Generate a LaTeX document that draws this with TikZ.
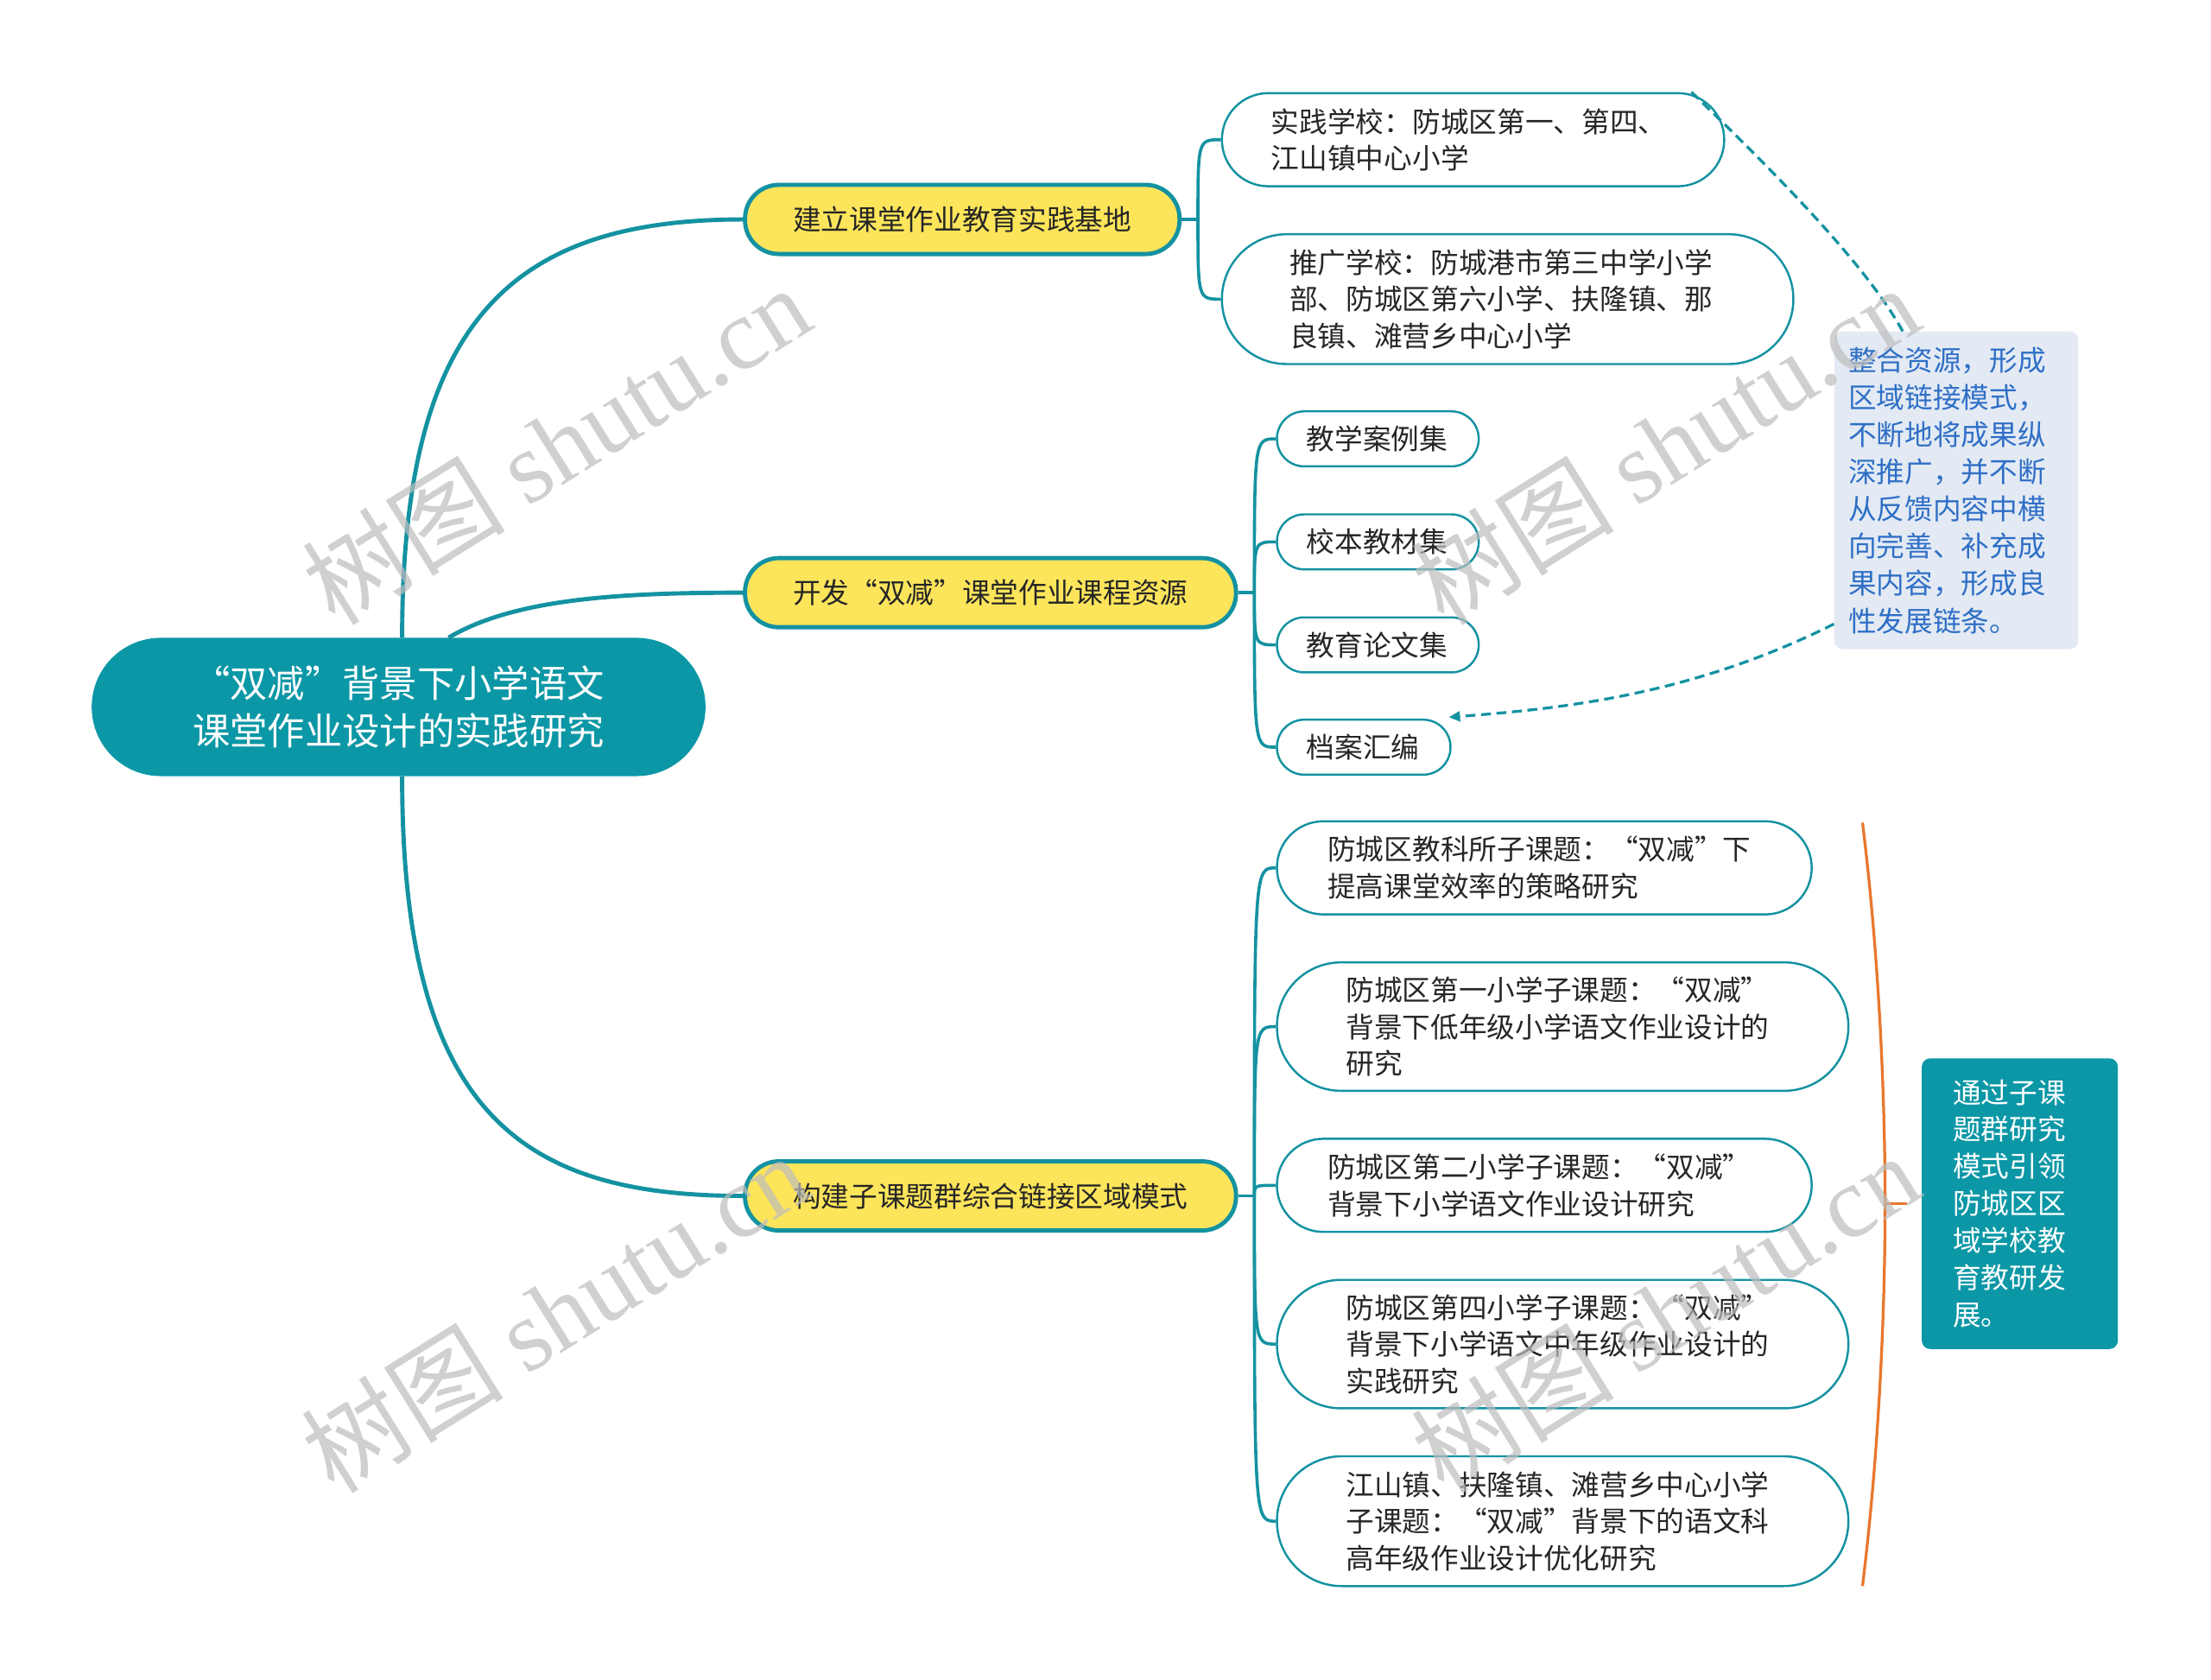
\documentclass[tikz,border=0pt]{standalone}
\usepackage{fontspec}
\setmainfont{Noto Sans CJK SC}
\newfontfamily\wmlatin{Liberation Serif}
\usetikzlibrary{calc,arrows.meta}
\definecolor{mmteal}{HTML}{0C97A6}
\definecolor{mmline}{HTML}{1492A1}
\definecolor{mmyellow}{HTML}{FDE55B}
\definecolor{callfill}{HTML}{E3EAF4}
\definecolor{calltext}{HTML}{2F6FC6}
\definecolor{mmorange}{HTML}{E8772E}
\definecolor{txt}{HTML}{262626}
\definecolor{wmgray}{HTML}{BDBDBD}
\begin{document}
\begin{tikzpicture}[x=1pt,y=-1pt,
  leaf/.style={draw=mmline, line width=1.5pt, fill=white, text=txt,
    font=\fontsize{20}{26}\selectfont, align=left, inner ysep=0pt},
  branch/.style={draw=mmline, line width=3pt, fill=mmyellow, text=txt,
    font=\fontsize{20}{26}\selectfont, minimum height=49pt, rounded corners=24pt, inner xsep=0pt},
  rootconn/.style={draw=mmline, line width=3pt},
  brconn/.style={draw=mmline, line width=2.2pt},
  dashconn/.style={draw=mmline, line width=2pt, dash pattern=on 7pt off 4pt},
  wmark/.style={text=wmgray, opacity=0.7, font=\fontsize{72}{72}\selectfont, rotate=32}
]
\useasboundingbox (0,0) rectangle (1567,1190.5);
\fill[white] (0,0) rectangle (1567,1190.5);

% root
\node[fill=mmteal, text=white, font=\fontsize{26.5}{34}\selectfont, align=center,
  minimum width=435pt, minimum height=98pt, rounded corners=48.9pt, inner sep=0pt]
  (root) at (282.5,501) {“双减”背景下小学语文\\课堂作业设计的实践研究};

% branches
\node[branch, minimum width=308pt] (B1) at (682,155.5) {建立课堂作业教育实践基地};
\node[branch, minimum width=348pt] (B2) at (702,420) {开发“双减”课堂作业课程资源};
\node[branch, minimum width=348pt] (B3) at (702,847.5) {构建子课题群综合链接区域模式};

% leaves of B1
\node[leaf, minimum height=66pt, rounded corners=32.9pt, inner xsep=35pt, text width=286pt]
  (L1a) at (1044,99) {实践学校：防城区第一、第四、\\江山镇中心小学};
\node[leaf, minimum height=92pt, rounded corners=45.9pt, inner xsep=48pt, text width=309pt]
  (L1b) at (1068.5,212) {推广学校：防城港市第三中学小学\\部、防城区第六小学、扶隆镇、那\\良镇、滩营乡中心小学};

% leaves of B2
\node[leaf, minimum height=39pt, rounded corners=19.4pt, inner xsep=21pt, text width=101pt]
  (L2a) at (976.5,311) {教学案例集};
\node[leaf, minimum height=39pt, rounded corners=19.4pt, inner xsep=21pt, text width=101pt]
  (L2b) at (976.5,384) {校本教材集};
\node[leaf, minimum height=39pt, rounded corners=19.4pt, inner xsep=21pt, text width=101pt]
  (L2c) at (976.5,457) {教育论文集};
\node[leaf, minimum height=39pt, rounded corners=19.4pt, inner xsep=21pt, text width=81pt]
  (L2d) at (966.5,529.5) {档案汇编};

% leaves of B3
\node[leaf, minimum height=66pt, rounded corners=32.9pt, inner xsep=36pt, text width=307pt]
  (L3a) at (1094.5,615) {防城区教科所子课题：“双减”下\\提高课堂效率的策略研究};
\node[leaf, minimum height=91pt, rounded corners=45.4pt, inner xsep=49pt, text width=307pt]
  (L3b) at (1107.5,727.5) {防城区第一小学子课题：“双减”\\背景下低年级小学语文作业设计的\\研究};
\node[leaf, minimum height=66pt, rounded corners=32.9pt, inner xsep=36pt, text width=307pt]
  (L3c) at (1094.5,840) {防城区第二小学子课题：“双减”\\背景下小学语文作业设计研究};
\node[leaf, minimum height=91pt, rounded corners=45.4pt, inner xsep=49pt, text width=307pt]
  (L3d) at (1107.5,952.5) {防城区第四小学子课题：“双减”\\背景下小学语文中年级作业设计的\\实践研究};
\node[leaf, minimum height=92pt, rounded corners=45.9pt, inner xsep=49pt, text width=307pt]
  (L3e) at (1107.5,1078) {江山镇、扶隆镇、滩营乡中心小学\\子课题：“双减”背景下的语文科\\高年级作业设计优化研究};

% callout note
\node[fill=callfill, rounded corners=6pt, text=calltext, font=\fontsize{20}{26.4}\selectfont,
  align=left, text width=153pt, inner xsep=10pt, inner ysep=0pt, minimum height=225pt]
  (note) at (1386.5,347.5) {整合资源，形成\\区域链接模式，\\不断地将成果纵\\深推广，并不断\\从反馈内容中横\\向完善、补充成\\果内容，形成良\\性发展链条。};

% summary
\node[fill=mmteal, rounded corners=6pt, text=white, font=\fontsize{20}{26.3}\selectfont,
  align=left, text width=95pt, inner xsep=22pt, inner ysep=0pt, minimum height=206pt]
  (sum) at (1431.5,853) {通过子课\\题群研究\\模式引领\\防城区区\\域学校教\\育教研发\\展。};

% root connectors
\draw[rootconn] ($(root.north)+(2.5,0)$) .. controls (285,230) and (360,155.5) .. (B1.west);
\draw[rootconn] ($(root.north)+(35.5,0)$) .. controls (365,424) and (440,420) .. (B2.west);
\draw[rootconn] ($(root.south)+(2.5,0)$) .. controls (285,790) and (370,847.5) .. (B3.west);

% bracket coordinates
\coordinate (k1) at (849,155.5);
\coordinate (k2) at (889,420);
\coordinate (k3) at (889,847.5);

\draw[brconn] (B1.east) -- (k1);
\foreach \c in {L1a,L1b} \draw[brconn] (k1) .. controls (k1 |- \c.west) .. (\c.west);
\draw[brconn] (B2.east) -- (k2);
\foreach \c in {L2a,L2b,L2c,L2d} \draw[brconn] (k2) .. controls (k2 |- \c.west) .. (\c.west);
\draw[brconn] (B3.east) -- (k3);
\foreach \c in {L3a,L3b,L3c,L3d,L3e} \draw[brconn] (k3) .. controls (k3 |- \c.west) .. (\c.west);

% dashed relations
\draw[dashconn] ($(L1a.north east)+(-24,0)$) .. controls (1264,128) and (1324,190) .. ($(note.north)+(-38,0)$);
\draw[dashconn, -{Triangle[length=8pt,width=7pt]}] ($(note.south west)+(0,-18)$)
  .. controls (1200,492) and (1110,502) .. ($(L2d.north east)+(-2,-1)$);

% summary brace
\coordinate (bt) at (1320,583);
\coordinate (bm) at (1336,853);
\coordinate (bb) at (1320,1124);
\draw[mmorange, line width=2pt] (bt) .. controls (1332,680) and (1336,780) .. (bm)
  .. controls (1336,926) and (1332,1026) .. (bb);
\draw[mmorange, line width=2pt] (bm) -- ($(sum.west)+(-10,0)$);

% watermarks
\node[wmark] (wm1) at (394,315) {树图 {\wmlatin shutu.cn}};
\node[wmark] (wm2) at (1180,315) {树图 {\wmlatin shutu.cn}};
\node[wmark] (wm3) at (393,930) {树图 {\wmlatin shutu.cn}};
\node[wmark] (wm4) at (1180,930) {树图 {\wmlatin shutu.cn}};
\end{tikzpicture}
\end{document}
